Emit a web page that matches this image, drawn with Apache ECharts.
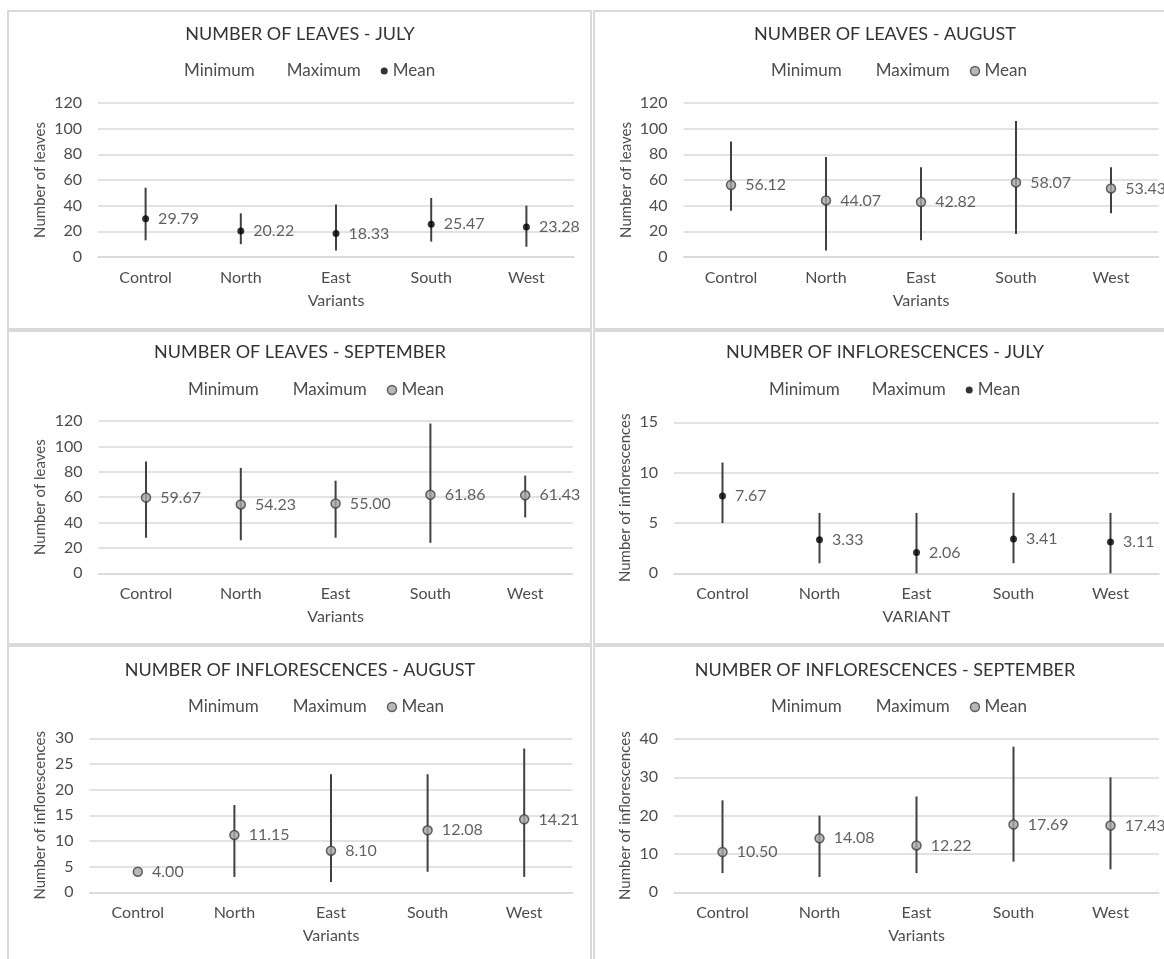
<!DOCTYPE html>
<html>
<head>
<meta charset="utf-8">
<script src="https://cdn.jsdelivr.net/npm/echarts@6/dist/echarts.min.js"></script>
<style>
html,body{margin:0;padding:0;background:#fff;}
#chart{width:1164px;height:959px;}
</style>
</head>
<body>
<div id="chart"></div>
<script>
// ---------- data ----------
const categories = ['Control', 'North', 'East', 'South', 'West'];

const leavesJulyMean = [29.79, 20.22, 18.33, 25.47, 23.28];
const leavesJulyMin  = [13, 10, 5, 12, 8];
const leavesJulyMax  = [54, 34, 41, 46, 40];

const leavesAugMean = [56.12, 44.07, 42.82, 58.07, 53.43];
const leavesAugMin  = [36, 5, 13, 18, 34];
const leavesAugMax  = [90, 78, 70, 106, 70];

const leavesSepMean = [59.67, 54.23, 55.00, 61.86, 61.43];
const leavesSepMin  = [28, 26, 28, 24, 44];
const leavesSepMax  = [88, 83, 73, 118, 77];

const inflJulyMean = [7.67, 3.33, 2.06, 3.41, 3.11];
const inflJulyMin  = [5, 1, 0, 1, 0];
const inflJulyMax  = [11, 6, 6, 8, 6];

const inflAugMean = [4.00, 11.15, 8.10, 12.08, 14.21];
const inflAugMin  = [4, 3, 2, 4, 3];
const inflAugMax  = [4, 17, 23, 23, 28];

const inflSepMean = [10.50, 14.08, 12.22, 17.69, 17.43];
const inflSepMin  = [5, 4, 5, 8, 6];
const inflSepMax  = [24, 20, 25, 38, 30];

const titles = [
  'NUMBER OF LEAVES - JULY', 'NUMBER OF LEAVES - AUGUST',
  'NUMBER OF LEAVES - SEPTEMBER', 'NUMBER OF INFLORESCENCES - JULY',
  'NUMBER OF INFLORESCENCES - AUGUST', 'NUMBER OF INFLORESCENCES - SEPTEMBER'
];
const yNames = ['Number of leaves', 'Number of leaves', 'Number of leaves',
  'Number of inflorescences', 'Number of inflorescences', 'Number of inflorescences'];
const xNames = ['Variants', 'Variants', 'Variants', 'VARIANT', 'Variants', 'Variants'];
const yMax = [120, 120, 120, 15, 30, 40];
const yStep = [20, 20, 20, 5, 5, 10];
const seriesNames = ['Minimum', 'Maximum', 'Mean'];

// ---------- layout / style ----------
const panels = [
  {mean: leavesJulyMean, min: leavesJulyMin, max: leavesJulyMax, dark: true},
  {mean: leavesAugMean, min: leavesAugMin, max: leavesAugMax, dark: false},
  {mean: leavesSepMean, min: leavesSepMin, max: leavesSepMax, dark: false},
  {mean: inflJulyMean, min: inflJulyMin, max: inflJulyMax, dark: true},
  {mean: inflAugMean, min: inflAugMin, max: inflAugMax, dark: false},
  {mean: inflSepMean, min: inflSepMin, max: inflSepMax, dark: false}
];
const grids = [
  {left: 98, top: 103, width: 476, height: 154},
  {left: 683.5, top: 103, width: 475, height: 154},
  {left: 98.6, top: 421, width: 474, height: 152.3},
  {left: 674, top: 422.3, width: 485, height: 151},
  {left: 89.5, top: 738.3, width: 483, height: 154},
  {left: 674, top: 739, width: 485, height: 153.3}
];
const titlePos = [[300, 35], [885, 35], [300, 353], [885, 353], [300, 671], [885, 671]];
const legendPos = [[172, 71], [757, 71], [174, 390], [757, 390], [174, 707], [757, 707]];
const yNameGap = [50, 50, 51, 41, 42, 41];

const FONT = 'Lato';
const TXT = '#4d4d4d';
const TITLE_FS = 18;
const FS = 16;

const option = {
  animation: false,
  backgroundColor: '#fff',
  textStyle: {fontFamily: FONT},
  graphic: [
    {type: 'rect', shape: {x: 8, y: 11, width: 583, height: 318}, style: {fill: 'none', stroke: '#d9d9d9', lineWidth: 2}},
    {type: 'rect', shape: {x: 594, y: 11, width: 600, height: 318}, style: {fill: 'none', stroke: '#d9d9d9', lineWidth: 2}},
    {type: 'rect', shape: {x: 8, y: 331, width: 583, height: 313}, style: {fill: 'none', stroke: '#d9d9d9', lineWidth: 2}},
    {type: 'rect', shape: {x: 594, y: 331, width: 600, height: 313}, style: {fill: 'none', stroke: '#d9d9d9', lineWidth: 2}},
    {type: 'rect', shape: {x: 8, y: 646, width: 583, height: 330}, style: {fill: 'none', stroke: '#d9d9d9', lineWidth: 2}},
    {type: 'rect', shape: {x: 594, y: 646, width: 600, height: 330}, style: {fill: 'none', stroke: '#d9d9d9', lineWidth: 2}}
  ],
  title: [], legend: [], grid: [], xAxis: [], yAxis: [], series: []
};

panels.forEach((p, i) => {
  option.title.push({
    text: titles[i], left: titlePos[i][0], top: titlePos[i][1] - TITLE_FS / 2 - 1,
    textAlign: 'center', padding: 0,
    textStyle: {fontFamily: FONT, fontSize: TITLE_FS, fontWeight: 'normal', color: '#333333', lineHeight: TITLE_FS}
  });
  const meanStyle = p.dark
    ? {color: '#000000', borderWidth: 0}
    : {color: '#a6a6a6', borderColor: '#404040', borderWidth: 1.5};
  option.legend.push({
    left: legendPos[i][0], top: legendPos[i][1] - 9, padding: 0,
    itemWidth: p.dark ? 7 : 9, itemHeight: p.dark ? 7 : 9, itemGap: 20,
    textStyle: {fontFamily: FONT, fontSize: 17, color: TXT, lineHeight: 18},
    selectedMode: false,
    data: [
      {name: 'Minimum', icon: 'rect', itemStyle: {color: 'rgba(0,0,0,0)', borderWidth: 0}},
      {name: 'Maximum', icon: 'rect', itemStyle: {color: 'rgba(0,0,0,0)', borderWidth: 0}},
      {name: 'Mean', icon: 'circle', itemStyle: meanStyle}
    ]
  });
  option.grid.push(Object.assign({containLabel: false}, grids[i]));
  option.xAxis.push({
    type: 'category', gridIndex: i, data: categories, boundaryGap: true,
    name: xNames[i], nameLocation: 'middle', nameGap: 36,
    nameTextStyle: {fontFamily: FONT, fontSize: FS, color: TXT},
    axisLine: {lineStyle: {color: '#d9d9d9', width: 1.5}},
    axisTick: {show: false},
    axisLabel: {fontFamily: FONT, fontSize: FS, color: TXT, margin: 13}
  });
  option.yAxis.push({
    type: 'value', gridIndex: i, min: 0, max: yMax[i], interval: yStep[i],
    name: yNames[i], nameLocation: 'middle', nameGap: yNameGap[i],
    nameTextStyle: {fontFamily: FONT, fontSize: 15, color: TXT},
    axisLine: {show: false}, axisTick: {show: false},
    axisLabel: {fontFamily: FONT, fontSize: FS, color: TXT, margin: 16},
    splitLine: {lineStyle: {color: '#d9d9d9', width: 1.5}}
  });
  // hidden min / max series (as in the source, only their high-low line is visible)
  option.series.push({
    name: seriesNames[0], type: 'line', xAxisIndex: i, yAxisIndex: i, data: p.min,
    symbol: 'none', lineStyle: {opacity: 0}, silent: true
  });
  option.series.push({
    name: seriesNames[1], type: 'line', xAxisIndex: i, yAxisIndex: i, data: p.max,
    symbol: 'none', lineStyle: {opacity: 0}, silent: true
  });
  // high-low lines
  option.series.push({
    name: 'hilo' + i, type: 'custom', xAxisIndex: i, yAxisIndex: i,
    data: categories.map((c, k) => [k, p.min[k], p.max[k]]),
    encode: {x: 0, y: [1, 2]},
    renderItem: function (params, api) {
      const lo = api.coord([api.value(0), api.value(1)]);
      const hi = api.coord([api.value(0), api.value(2)]);
      return {
        type: 'line',
        shape: {x1: lo[0], y1: lo[1], x2: hi[0], y2: hi[1]},
        style: {stroke: '#404040', lineWidth: 2}
      };
    },
    z: 2
  });
  option.series.push({
    name: seriesNames[2], type: 'scatter', xAxisIndex: i, yAxisIndex: i, data: p.mean,
    symbol: 'circle', symbolSize: p.dark ? 7 : 9,
    itemStyle: meanStyle,
    label: {
      show: true, position: 'right', distance: 9,
      formatter: (d) => d.value.toFixed(2),
      fontFamily: FONT, fontSize: FS, color: '#3a3a3a'
    },
    z: 5
  });
});

const chart = echarts.init(document.getElementById('chart'), null, {renderer: 'canvas'});
chart.setOption(option);
</script>
</body>
</html>
